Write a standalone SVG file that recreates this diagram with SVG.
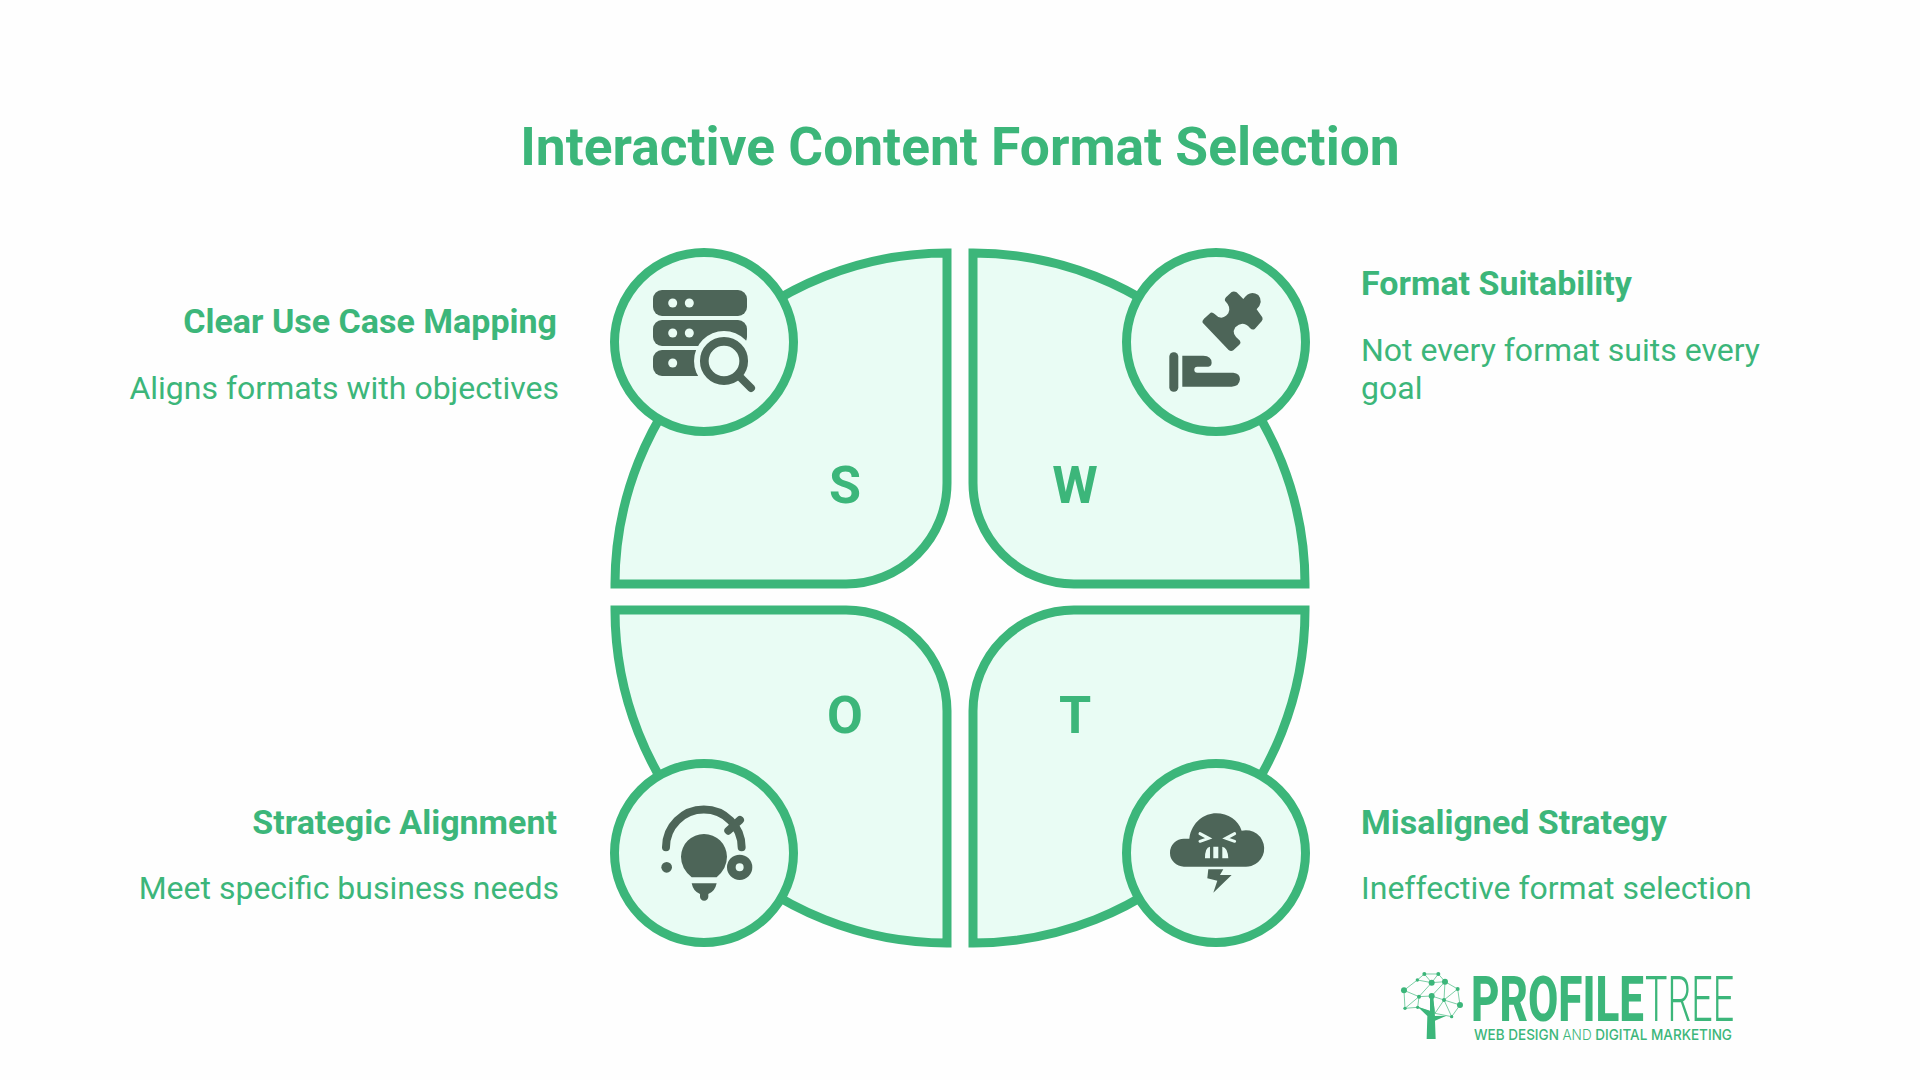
<svg xmlns="http://www.w3.org/2000/svg" width="1920" height="1080" viewBox="0 0 1920 1080">
<style>
text{font-family:Roboto,"Liberation Sans",sans-serif;fill:#3cb67a}
.q{fill:#e9fcf4;stroke:#3cb67a;stroke-width:9}
.c{fill:#e9fcf4;stroke:#3cb67a;stroke-width:9}
.l{font-size:52px;font-weight:700;text-anchor:middle}
.h{font-size:34px;font-weight:700}
.b{font-size:32px;font-weight:400}
.i{fill:#4d6558}
.s{fill:none;stroke:#4d6558;stroke-linecap:round}
.w{fill:none;stroke:#e9fcf4;stroke-linecap:round}
.n{fill:none;stroke:#3cb67a;stroke-width:2}
</style>
<rect width="1920" height="1080" fill="#fefefe"/>
<text id="title" x="960" y="165" font-size="53.3" font-weight="700" text-anchor="middle">Interactive Content Format Selection</text>
<g id="node-s">
<path class="q" d="M947 253V483A101 101 0 0 1 846 584H615A332 331 0 0 1 947 253Z"/>
<circle class="c" cx="704" cy="342" r="89.5"/>
<text class="l" x="845" y="503">S</text>
<g>
<rect class="i" x="653" y="290" width="94" height="26" rx="9"/><rect class="i" x="653" y="320" width="94" height="26" rx="9"/><rect class="i" x="653" y="350" width="60" height="26" rx="9"/>
<circle cx="724" cy="361" r="30" fill="#e9fcf4"/>
<circle cx="724" cy="361" r="19.7" fill="none" stroke="#4d6558" stroke-width="8.7"/>
<path class="s" stroke-width="8" d="M741 378L751 388"/>
<g fill="#e9fcf4"><circle cx="672.7" cy="303" r="4.5"/><circle cx="689.3" cy="303" r="4.5"/><circle cx="672.7" cy="333" r="4.5"/><circle cx="689.3" cy="333" r="4.5"/><circle cx="672.7" cy="363" r="4.5"/></g>
</g>
<text class="h" x="557" y="333" text-anchor="end">Clear Use Case Mapping</text>
<text class="b" x="559" y="399" text-anchor="end">Aligns formats with objectives</text>
</g>
<g id="node-w">
<path class="q" d="M973 253V483A101 101 0 0 0 1074 584H1305A332 331 0 0 0 973 253Z"/>
<circle class="c" cx="1216" cy="342" r="89.5"/>
<text class="l" x="1075" y="503">W</text>
<g transform="translate(960 230) scale(.3333)">
<path class="i" d="M728 278Q726 272 732 266L752 248Q758 246 764 252Q785 275 805 250Q815 232 795 212Q793 207 798 202L815 186Q822 182 830 187L850 207Q870 178 895 195Q912 215 890 238L907 262Q910 268 905 274L885 296Q878 302 870 294Q848 270 826 292Q812 312 840 332Q844 338 838 344L820 361Q813 366 806 360Z"/>
<rect class="i" x="628" y="367" width="27" height="118" rx="13"/>
<path class="i" d="M667 377H730Q755 378 755 398Q755 408 745 410H712Q703 410 703 419Q703 428 712 428H820Q840 430 840 448Q838 470 815 470H667Z"/>
</g>
<text class="h" x="1361" y="295">Format Suitability</text>
<text class="b" x="1361" y="361">Not every format suits every</text>
<text class="b" x="1361" y="399">goal</text>
</g>
<g id="node-o">
<path class="q" d="M947 943V711A101 101 0 0 0 846 610H615A332 333 0 0 0 947 943Z"/>
<circle class="c" cx="704" cy="853" r="89.5"/>
<text class="l" x="845" y="733">O</text>
<g transform="translate(600 590) scale(.3333)">
<path class="s" stroke-width="24" d="M198 772A113.5 113.5 0 0 1 425 772M385 722L420 690"/>
<path class="i" d="M312 732A69 69 0 0 1 381 800Q381 835 350 862H275Q243 835 243 800A69 69 0 0 1 312 732Z"/>
<path class="i" d="M275 880H350Q345 905 325 912V920A12 12 0 0 1 300 920V912Q280 905 275 880Z"/>
<circle class="i" cx="200" cy="832" r="16"/>
<circle cx="419" cy="832" r="25" fill="none" stroke="#4d6558" stroke-width="26"/>
</g>
<text class="h" x="557" y="834" text-anchor="end">Strategic Alignment</text>
<text class="b" x="559" y="899" text-anchor="end">Meet specific business needs</text>
</g>
<g id="node-t">
<path class="q" d="M973 943V711A101 101 0 0 1 1074 610H1305A332 333 0 0 1 973 943Z"/>
<circle class="c" cx="1216" cy="853" r="89.5"/>
<text class="l" x="1075" y="733">T</text>
<g transform="translate(960 590) scale(.3333)">
<path class="i" d="M672 830A42 42 0 0 1 672 746H688C695 695 735 670 768 670C805 670 835 690 845 722A55 55 0 1 1 850 830Z"/>
<path class="w" stroke-width="9" d="M720 731L746 745L720 754M824 731L798 745L824 754"/>
<path fill="#e9fcf4" d="M735 805Q735 772 750 770V805ZM760 770H775V805H760ZM787 770Q803 772 805 805H787Z"/>
<path class="i" d="M745 838H790L780 855H815L760 908L772 872L742 865Z"/>
</g>
<text class="h" x="1361" y="834">Misaligned Strategy</text>
<text class="b" x="1361" y="899">Ineffective format selection</text>
</g>
<g id="logo">
<g transform="translate(1380 950) scale(.3333)">
<path class="n" stroke-width="5" d="M133 72L175 72L195 95L233 117L240 165L215 200L192 150L155 138L117 140L72 121L112 90L133 72L155 98L175 72M112 90L155 98L195 95L192 150L233 117M72 121L75 175L113 172L117 140L155 98M75 175L117 140M113 172L150 185L165 190L192 150M155 138L165 190M195 95L155 138M215 200L165 190M240 165L192 150"/>
<path fill="#3cb67a" d="M140 267H167L165 212L200 197L165 198L160 140H150L150 182L113 170L142 198Z"/>
<g fill="#3cb67a"><circle cx="133" cy="72" r="6"/><circle cx="175" cy="72" r="6"/><circle cx="112" cy="90" r="5"/><circle cx="155" cy="98" r="9"/><circle cx="195" cy="95" r="9"/><circle cx="72" cy="121" r="9"/><circle cx="233" cy="117" r="6"/><circle cx="117" cy="140" r="6"/><circle cx="155" cy="138" r="9"/><circle cx="192" cy="150" r="6"/><circle cx="75" cy="175" r="5"/><circle cx="113" cy="172" r="5"/><circle cx="240" cy="165" r="9"/><circle cx="215" cy="200" r="5"/></g>
</g>
<text x="1471" y="1021" font-size="63" font-weight="800" textLength="173" lengthAdjust="spacingAndGlyphs">PROFILE</text>
<text x="1645" y="1021" font-size="63" font-weight="300" textLength="89" lengthAdjust="spacingAndGlyphs">TREE</text>
<text x="1474" y="1040" font-size="15" font-weight="500" textLength="258" lengthAdjust="spacingAndGlyphs" style="font-family:Inter,Roboto,sans-serif">WEB DESIGN <tspan font-weight="300">AND</tspan> DIGITAL MARKETING</text>
</g>
</svg>
